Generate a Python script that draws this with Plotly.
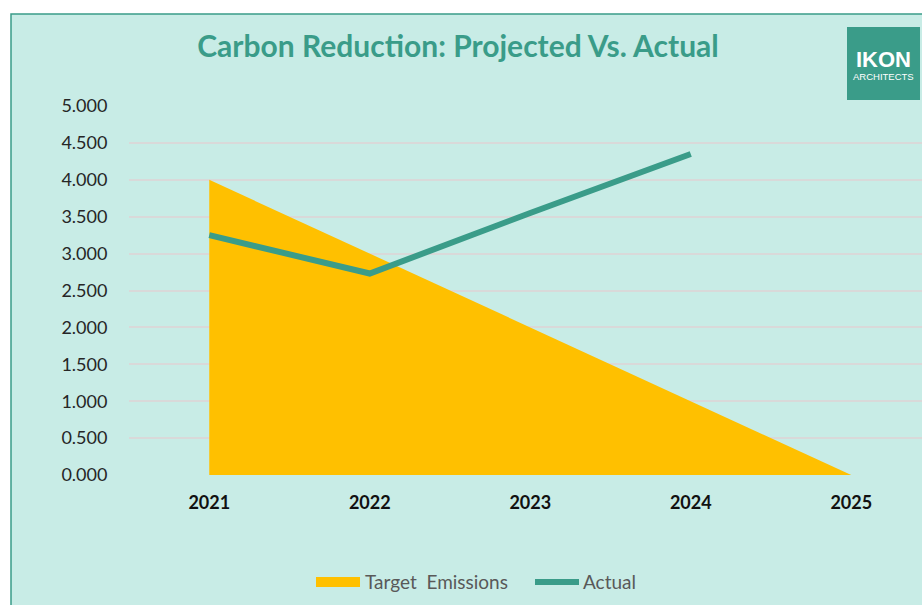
import plotly.graph_objects as go

years = ["2021", "2022", "2023", "2024", "2025"]
target = [4.0, 3.0, 2.0, 1.0, 0.0]
actual_years = ["2021", "2022", "2023", "2024"]
actual = [3.25, 2.73, 3.55, 4.35]
series_names = ["Target  Emissions", "Actual"]

W, H = 922, 605
L, R = 129, 0
T = 106
B = H - 475
pw, ph = W - L - R, H - T - B

def px_x(p):
    return (p - L) / pw

def px_y(p):
    return (H - B - p) / ph

mint = "#C8ECE6"
teal = "#3A9C89"
gold = "#FFC000"

fig = go.Figure()
fig.add_trace(go.Scatter(
    x=years, y=target, name=series_names[0], mode="lines",
    fill="tozeroy", fillcolor=gold, line=dict(width=0, color=gold),
))
fig.add_trace(go.Scatter(
    x=actual_years, y=actual, name=series_names[1], mode="lines",
    line=dict(width=6, color=teal),
))

fig.update_layout(
    width=W, height=H,
    margin=dict(l=L, r=R, t=T, b=B, autoexpand=False),
    paper_bgcolor="white",
    plot_bgcolor="rgba(0,0,0,0)",
    font=dict(family="Lato", color="#262626"),
    title=dict(text="<b>Carbon Reduction: Projected Vs. Actual</b>",
               x=458 / W, xref="container", xanchor="center",
               y=1 - 46 / H, yref="container", yanchor="middle",
               font=dict(family="Lato", size=30, color=teal)),
    xaxis=dict(type="category", range=[-0.5, -0.5 + pw / 160.5],
               showgrid=False, zeroline=False, showline=False,
               ticks="outside", ticklen=11, tickcolor="rgba(0,0,0,0)",
               tickfont=dict(family="Lato", size=18, color="#111111"),
               tickprefix="<b>", ticksuffix="</b>"),
    yaxis=dict(range=[0, 5], dtick=0.5, tickformat=".3f",
               showgrid=True, gridcolor="#D9D9D9", gridwidth=1.5,
               zeroline=False, showline=False,
               ticks="outside", ticklen=17, tickcolor="rgba(0,0,0,0)",
               tickfont=dict(family="Lato", size=18, color="#262626")),
    showlegend=False,
)

fig.add_shape(type="rect", xref="paper", yref="paper",
              x0=px_x(11), x1=px_x(960), y0=px_y(640), y1=px_y(14),
              fillcolor=mint, line=dict(color=teal, width=1.5), layer="below")

# custom legend
fig.add_shape(type="rect", xref="paper", yref="paper",
              x0=px_x(316), x1=px_x(360), y0=px_y(587), y1=px_y(577),
              fillcolor=gold, line=dict(width=0))
fig.add_annotation(text=series_names[0], xref="paper", yref="paper",
                   x=px_x(363), y=px_y(581.5), xanchor="left", yanchor="middle",
                   showarrow=False,
                   font=dict(family="Lato", size=19, color="#595959"))
fig.add_shape(type="line", xref="paper", yref="paper",
              x0=px_x(535), x1=px_x(579), y0=px_y(582), y1=px_y(582),
              line=dict(color=teal, width=6))
fig.add_annotation(text=series_names[1], xref="paper", yref="paper",
                   x=px_x(581), y=px_y(581.5), xanchor="left", yanchor="middle",
                   showarrow=False,
                   font=dict(family="Lato", size=19, color="#595959"))

# logo
fig.add_shape(type="rect", xref="paper", yref="paper",
              x0=px_x(847), x1=px_x(920), y0=px_y(100), y1=px_y(27),
              fillcolor=teal, line=dict(width=0), layer="above")
fig.add_annotation(text="<b>IKON</b>", xref="paper", yref="paper",
                   x=px_x(883.5), y=px_y(60), xanchor="center", yanchor="middle",
                   showarrow=False,
                   font=dict(family="Liberation Sans", size=22, color="white"))
fig.add_annotation(text="ARCHITECTS", xref="paper", yref="paper",
                   x=px_x(883.5), y=px_y(76.5), xanchor="center", yanchor="middle",
                   showarrow=False,
                   font=dict(family="Liberation Sans", size=9.5, color="white"))

fig.write_html(
    "out.html",
    config={"displayModeBar": False},
    post_script="document.body.style.margin='0';document.body.style.overflow='hidden';",
)
